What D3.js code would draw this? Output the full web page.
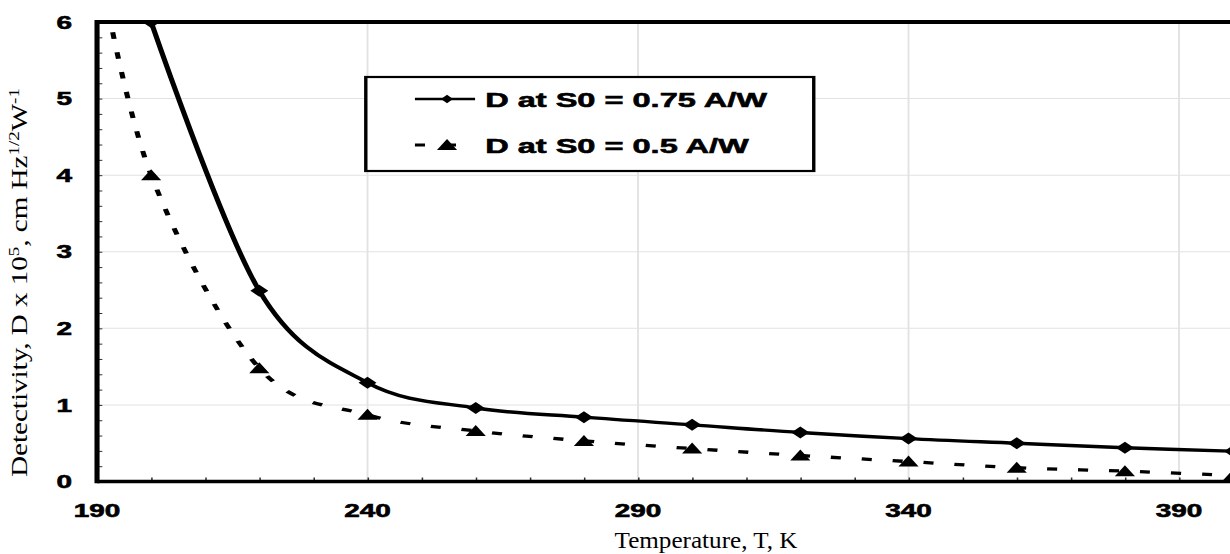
<!DOCTYPE html>
<html>
<head>
<meta charset="utf-8">
<script src="https://cdn.jsdelivr.net/npm/d3@7"></script>
<style>
  body { margin: 0; background: #fff; }
  svg { display: block; }
</style>
</head>
<body>
<div id="container"></div>
<script>
// data
let tempsHigh = [200, 220, 240, 260, 280, 300, 320, 340, 360, 380, 400];
let dHigh = [6.0, 2.49, 1.29, 0.96, 0.84, 0.74, 0.64, 0.56, 0.5, 0.44, 0.395];
let tempsLow = [190, 200, 220, 240, 260, 280, 300, 320, 340, 360, 380, 400];
let dLow = [6.9, 4.0, 1.48, 0.87, 0.66, 0.53, 0.43, 0.34, 0.26, 0.18, 0.135, 0.08];
let seriesNames = ["D at S0 = 0.75 A/W", "D at S0 = 0.5 A/W"];
let xLabels = [190, 240, 290, 340, 390];
let yLabels = [0, 1, 2, 3, 4, 5, 6];

// the whole chart is stretched sideways
const SX = 1.55;
const W = 1230, H = 554;

let svg = d3.select('#container')
            .append('svg')
            .attr("width", W)
            .attr("height", H);

let g = svg.append('g').attr('transform', `scale(${SX},1)`);

let x = d3.scaleLinear().domain([190, 400]).range([62.6, 62.6 + 210 * 5.41 / SX]);
let y = d3.scaleLinear().domain([0, 6]).range([481.5, 22]);
let x0 = x.range()[0], x1 = x.range()[1];
let yTop = y(6), yBot = y(0);

svg.append('defs').append('clipPath').attr('id', 'plotClip')
   .append('rect')
   .attr('x', x0).attr('y', yTop)
   .attr('width', x1 - x0).attr('height', yBot - yTop);

// grid
g.selectAll('.hgrid')
 .data([1, 2, 3, 4, 5])
 .enter().append('line')
 .attr('x1', x0).attr('x2', x1)
 .attr('y1', d => y(d)).attr('y2', d => y(d))
 .attr('stroke', '#e2e2e2').attr('stroke-width', 1);

g.selectAll('.vgrid')
 .data(xLabels.slice(1))
 .enter().append('line')
 .attr('x1', d => x(d)).attr('x2', d => x(d))
 .attr('y1', yTop).attr('y2', yBot)
 .attr('stroke', '#e2e2e2').attr('stroke-width', 1.2);

// minor ticks (inside)
g.append('g')
 .attr('transform', `translate(${x0},0)`)
 .call(d3.axisRight(y).tickValues(d3.range(0.2, 6, 0.2)).tickSize(3.4).tickFormat(''))
 .call(a => a.select('.domain').remove())
 .selectAll('line').attr('stroke', '#333').attr('stroke-width', 1);

g.append('g')
 .attr('transform', `translate(0,${yBot})`)
 .call(d3.axisTop(x).tickValues(d3.range(200, 400, 10)).tickSize(4).tickFormat(''))
 .call(a => a.select('.domain').remove())
 .selectAll('line').attr('stroke', '#333').attr('stroke-width', 1);

// frame
g.append('line').attr('x1', x0).attr('x2', x1).attr('y1', yTop).attr('y2', yTop)
 .attr('stroke', '#000').attr('stroke-width', 3.8);
g.append('line').attr('x1', x0).attr('x2', x1).attr('y1', yBot).attr('y2', yBot)
 .attr('stroke', '#000').attr('stroke-width', 3.4);
g.append('line').attr('x1', x0).attr('x2', x0).attr('y1', yTop - 1.9).attr('y2', yBot + 1.7)
 .attr('stroke', '#000').attr('stroke-width', 3.3);
g.append('line').attr('x1', x1).attr('x2', x1).attr('y1', yTop - 1.9).attr('y2', yBot + 1.7)
 .attr('stroke', '#000').attr('stroke-width', 3.3);

// tick labels
g.selectAll('.ylab')
 .data(yLabels)
 .enter().append('text')
 .attr('x', 46.5)
 .attr('y', d => y(d) + 6.6)
 .attr('text-anchor', 'end')
 .attr('font-family', 'Liberation Sans, Arial, sans-serif')
 .attr('font-weight', 'bold')
 .attr('font-size', 18)
 .attr('stroke', '#000').attr('stroke-width', 0.6)
 .text(d => d);

g.selectAll('.xlab')
 .data(xLabels)
 .enter().append('text')
 .attr('x', d => x(d))
 .attr('y', 517)
 .attr('text-anchor', 'middle')
 .attr('font-family', 'Liberation Sans, Arial, sans-serif')
 .attr('font-weight', 'bold')
 .attr('font-size', 18)
 .attr('stroke', '#000').attr('stroke-width', 0.6)
 .text(d => d);

// series
let line = d3.line()
             .x(d => x(d[0]))
             .y(d => y(d[1]))
             .curve(d3.curveCardinal.tension(0));

let high = tempsHigh.map((t, i) => [t, dHigh[i]]);
let low = tempsLow.map((t, i) => [t, dLow[i]]);

function diamond(w, h) {
    return `M0,${-h}L${w},0L0,${h}L${-w},0Z`;
}
function triangle(w, h) {
    return `M0,${-h / 2 - 1}L${w / 2},${h / 2}L${-w / 2},${h / 2}Z`;
}

let plot = g.append('g').attr('clip-path', 'url(#plotClip)');

plot.append('path')
    .datum(low)
    .attr('d', line)
    .attr('fill', 'none')
    .attr('stroke', '#000')
    .attr('stroke-width', 3.3)
    .attr('stroke-dasharray', '6.5,13.5');

plot.append('path')
    .datum(high)
    .attr('d', line)
    .attr('fill', 'none')
    .attr('stroke', '#000')
    .attr('stroke-width', 3.4);

plot.selectAll('.tri')
    .data(low)
    .enter().append('path')
    .attr('transform', d => `translate(${x(d[0])},${y(d[1])})`)
    .attr('d', triangle(13, 10))
    .attr('fill', '#000');

plot.selectAll('.dia')
    .data(high)
    .enter().append('path')
    .attr('transform', d => `translate(${x(d[0])},${y(d[1])})`)
    .attr('d', diamond(5.8, 6))
    .attr('fill', '#000');

// legend
let leg = g.append('g');
leg.append('rect')
   .attr('x', 236).attr('y', 77)
   .attr('width', 289).attr('height', 94)
   .attr('fill', '#fff')
   .attr('stroke', '#000').attr('stroke-width', 2.2);

leg.append('line').attr('x1', 267.7).attr('x2', 306.5).attr('y1', 99).attr('y2', 99)
   .attr('stroke', '#000').attr('stroke-width', 2.6);
leg.append('path').attr('transform', 'translate(288.4,99)').attr('d', diamond(3.9, 4.2)).attr('fill', '#000');

leg.append('line').attr('x1', 267.7).attr('x2', 306.5).attr('y1', 145).attr('y2', 145)
   .attr('stroke', '#000').attr('stroke-width', 3).attr('stroke-dasharray', '6.5,13.5');
leg.append('path').attr('transform', 'translate(288.4,145)').attr('d', triangle(13, 10)).attr('fill', '#000');

leg.selectAll('.legtext')
   .data(seriesNames)
   .enter().append('text')
   .attr('x', 313)
   .attr('y', (d, i) => i == 0 ? 107 : 153)
   .attr('font-family', 'Liberation Sans, Arial, sans-serif')
   .attr('font-weight', 'bold')
   .attr('font-size', 21)
   .attr('stroke', '#000').attr('stroke-width', 0.6)
   .text(d => d);

// axis titles (not stretched)
let xTitle = svg.append('text')
   .attr('text-anchor', 'middle')
   .attr('font-family', 'Liberation Serif, Times New Roman, serif')
   .attr('font-size', 23)
   .text('Temperature, T, K');
let xl = xTitle.node().getComputedTextLength();
xTitle.attr('transform', `translate(706,548) scale(${183 / xl},1)`);

let yTitle = svg.append('text')
   .attr('text-anchor', 'middle')
   .attr('font-family', 'Liberation Serif, Times New Roman, serif')
   .attr('font-size', 23);
yTitle.append('tspan').text('Detectivity, D x 10');
yTitle.append('tspan').attr('baseline-shift', 'super').attr('font-size', 15).text('5');
yTitle.append('tspan').text(', cm Hz');
yTitle.append('tspan').attr('baseline-shift', 'super').attr('font-size', 15).text('1/2');
yTitle.append('tspan').text('W');
yTitle.append('tspan').attr('baseline-shift', 'super').attr('font-size', 15).text('-1');
let yl = yTitle.node().getComputedTextLength();
yTitle.attr('transform', `translate(27,282.5) rotate(-90) scale(${389 / yl},1)`);
</script>
</body>
</html>
